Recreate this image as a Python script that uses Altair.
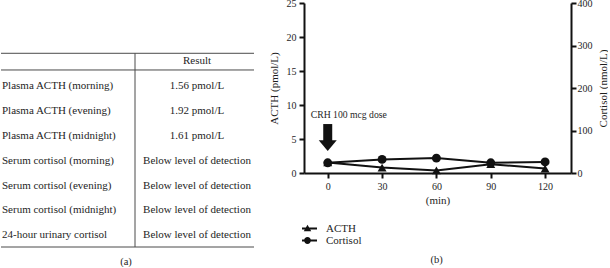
import altair as alt
import pandas as pd

# ---------------- data: table (a) ----------------
test_names = [
    "Plasma ACTH (morning)",
    "Plasma ACTH (evening)",
    "Plasma ACTH (midnight)",
    "Serum cortisol (morning)",
    "Serum cortisol (evening)",
    "Serum cortisol (midnight)",
    "24-hour urinary cortisol",
]
test_results = [
    "1.56 pmol/L",
    "1.92 pmol/L",
    "1.61 pmol/L",
    "Below level of detection",
    "Below level of detection",
    "Below level of detection",
    "Below level of detection",
]
result_header = ["Result"]

# ---------------- data: chart (b) ----------------
times_min = [0, 30, 60, 90, 120]
acth_pmol = [1.56, 0.8, 0.37, 1.3, 0.66]
cortisol_nmol = [24, 32, 35, 24, 26]
series_names = ["ACTH", "Cortisol"]
x_ticks = [0, 30, 60, 90, 120]
acth_ticks = [0, 5, 10, 15, 20, 25]
cortisol_ticks = [0, 100, 200, 300, 400]
annotation_text = ["CRH 100 mcg dose"]

FONT = "Liberation Serif"
INK = "#111111"
TXT = "#1e1e1e"
LINE = "#4a4a4a"

# ---------------- table (a) ----------------
rows_df = pd.DataFrame({"row": list(range(1, len(test_names) + 1)),
                        "name": test_names, "result": test_results})
header_df = pd.DataFrame({"row": [0], "result": result_header})
hlines_df = pd.DataFrame({"row": [-0.31, 0.36, 7.47]})
vline_df = pd.DataFrame({"top": [-0.31], "bottom": [7.47]})
cap_a_df = pd.DataFrame({"t": ["(a)"]})

ty_scale = alt.Scale(domain=[-2.33, 7.47], reverse=True)
ty = alt.Y("row:Q", scale=ty_scale, axis=None)

t_names = alt.Chart(rows_df).mark_text(
    align="left", baseline="middle", font=FONT, fontSize=11, color=TXT
).encode(x=alt.value(1), y=ty, text="name:N")
t_results = alt.Chart(rows_df).mark_text(
    align="center", baseline="middle", font=FONT, fontSize=11, color=TXT
).encode(x=alt.value(196), y=ty, text="result:N")
t_header = alt.Chart(header_df).mark_text(
    align="center", baseline="middle", font=FONT, fontSize=11, color=TXT
).encode(x=alt.value(196), y=ty, text="result:N")
t_hlines = alt.Chart(hlines_df).mark_rule(color=LINE, strokeWidth=1).encode(
    x=alt.value(0), x2=alt.value(253), y=ty)
t_vline = alt.Chart(vline_df).mark_rule(color=LINE, strokeWidth=1).encode(
    x=alt.value(134),
    y=alt.Y("top:Q", scale=ty_scale, axis=None),
    y2="bottom:Q")
t_cap = alt.Chart(cap_a_df).mark_text(
    align="center", baseline="middle", font=FONT, fontSize=10.5, color=TXT
).encode(x=alt.value(125), y=alt.value(258.5), text="t:N")

table = alt.layer(t_hlines, t_vline, t_header, t_names, t_results, t_cap).properties(
    width=254, height=244)

# ---------------- chart (b) ----------------
df = pd.DataFrame({"time": times_min, "acth": acth_pmol, "cortisol": cortisol_nmol})

x_axis = alt.Axis(values=x_ticks, title="(min)", labelPadding=3, titlePadding=3)
x_scale = alt.Scale(domain=[-13.1, 134.3], nice=False, zero=False)
x_enc = alt.X("time:Q", scale=x_scale, axis=x_axis)

y_left_title = "ACTH (pmol/L)"
y_left_scale = alt.Scale(domain=[0, 25], nice=False)
y_left_axis = alt.Axis(orient="left", values=acth_ticks, labelPadding=3,
                       labelOverlap=False, labelFlush=False,
                       titleX=-30, titleY=85, titleAngle=270,
                       titleAlign="center", titleBaseline="middle")


def yl(field):
    return alt.Y(field, scale=y_left_scale, title=y_left_title, axis=y_left_axis)


acth_line = alt.Chart(df).mark_line(color=INK, strokeWidth=2).encode(
    x=x_enc, y=yl("acth:Q"))
acth_pts = alt.Chart(df).mark_point(
    shape="triangle-up", filled=True, size=80, color=INK, opacity=1
).encode(x=x_enc, y=yl("acth:Q"))

# annotation arrow (CRH dose at t = 0)
arrow_df = pd.DataFrame({"time": [0], "shaft_top": [7.2], "shaft_bottom": [4.55],
                         "head": [4.04], "label_y": [8.6], "label": annotation_text})
shaft = alt.Chart(arrow_df).mark_rule(color=INK, strokeWidth=9, strokeCap="butt").encode(
    x=x_enc, y=yl("shaft_top:Q"), y2="shaft_bottom:Q")
head = alt.Chart(arrow_df).mark_point(
    shape="M-1,-0.6L1,-0.6L0,0.6Z", filled=True, size=324, color=INK, opacity=1
).encode(x=x_enc, y=yl("head:Q"))
crh_label = alt.Chart(arrow_df).mark_text(
    align="left", baseline="middle", dx=-17, font=FONT, fontSize=9.7, color=TXT
).encode(x=x_enc, y=yl("label_y:Q"), text="label:N")

# legend-only layer (no visible marks)
legend_df = pd.DataFrame({"series": series_names, "time": [0, 0], "acth": [0, 0]})
ACTH_SYM = "M-1.9,-0.18H1.9V0.18H-1.9ZM0,-0.75L0.75,0.55H-0.75Z"
CORT_SYM = ("M-1.9,-0.18H1.9V0.18H-1.9Z"
            "M0.68,0A0.68,0.68,0,1,1,-0.68,0A0.68,0.68,0,1,1,0.68,0Z")
legend_layer = alt.Chart(legend_df).transform_filter("datum.time > 1000").mark_point(
    filled=True, color=INK
).encode(
    x=x_enc,
    y=yl("acth:Q"),
    shape=alt.Shape("series:N",
                    scale=alt.Scale(domain=series_names, range=[ACTH_SYM, CORT_SYM]),
                    legend=alt.Legend(orient="none", legendX=301, legendY=219.5,
                                      title=None, symbolSize=100,
                                      symbolStrokeWidth=0, symbolFillColor=INK,
                                      symbolOpacity=1, clipHeight=12,
                                      labelFont=FONT, labelFontSize=11,
                                      labelColor=TXT, labelOffset=13,
                                      rowPadding=0)))

cap_b_df = pd.DataFrame({"t": ["(b)"]})
cap_b = alt.Chart(cap_b_df).mark_text(
    align="center", baseline="middle", font=FONT, fontSize=10.5, color=TXT
).encode(x=alt.value(132.6), y=alt.value(257), text="t:N")

left = alt.layer(acth_line, acth_pts, shaft, head, crh_label, legend_layer, cap_b)

y_right_title = "Cortisol (nmol/L)"
y_right_scale = alt.Scale(domain=[0, 400], nice=False)
y_right_axis = alt.Axis(orient="right", values=cortisol_ticks, labelPadding=1,
                        labelOverlap=False, labelFlush=False,
                        titleX=32, titleY=85, titleAngle=270,
                        titleAlign="center", titleBaseline="middle")


def yr(field):
    return alt.Y(field, scale=y_right_scale, title=y_right_title, axis=y_right_axis)


cort_line = alt.Chart(df).mark_line(color=INK, strokeWidth=2).encode(
    x=x_enc, y=yr("cortisol:Q"))
cort_pts = alt.Chart(df).mark_point(
    shape="circle", filled=True, size=80, color=INK, opacity=1
).encode(x=x_enc, y=yr("cortisol:Q"))
right = alt.layer(cort_line, cort_pts)

plot = alt.layer(left, right).resolve_scale(y="independent").properties(
    width=267, height=170)

chart = alt.hconcat(table, plot, spacing=49, bounds="flush").properties(
    padding={"left": 0, "top": -2, "right": 0, "bottom": 0}
).configure(font=FONT).configure_view(stroke=None).configure_axis(
    grid=False,
    domainColor=INK, domainWidth=2,
    tickColor=INK, tickWidth=2, tickSize=5,
    labelFont=FONT, labelFontSize=10, labelColor=TXT,
    titleFont=FONT, titleFontSize=11, titleFontWeight="normal", titleColor=TXT,
)

chart.save("out.html", embed_options={"renderer": "svg", "actions": False})
